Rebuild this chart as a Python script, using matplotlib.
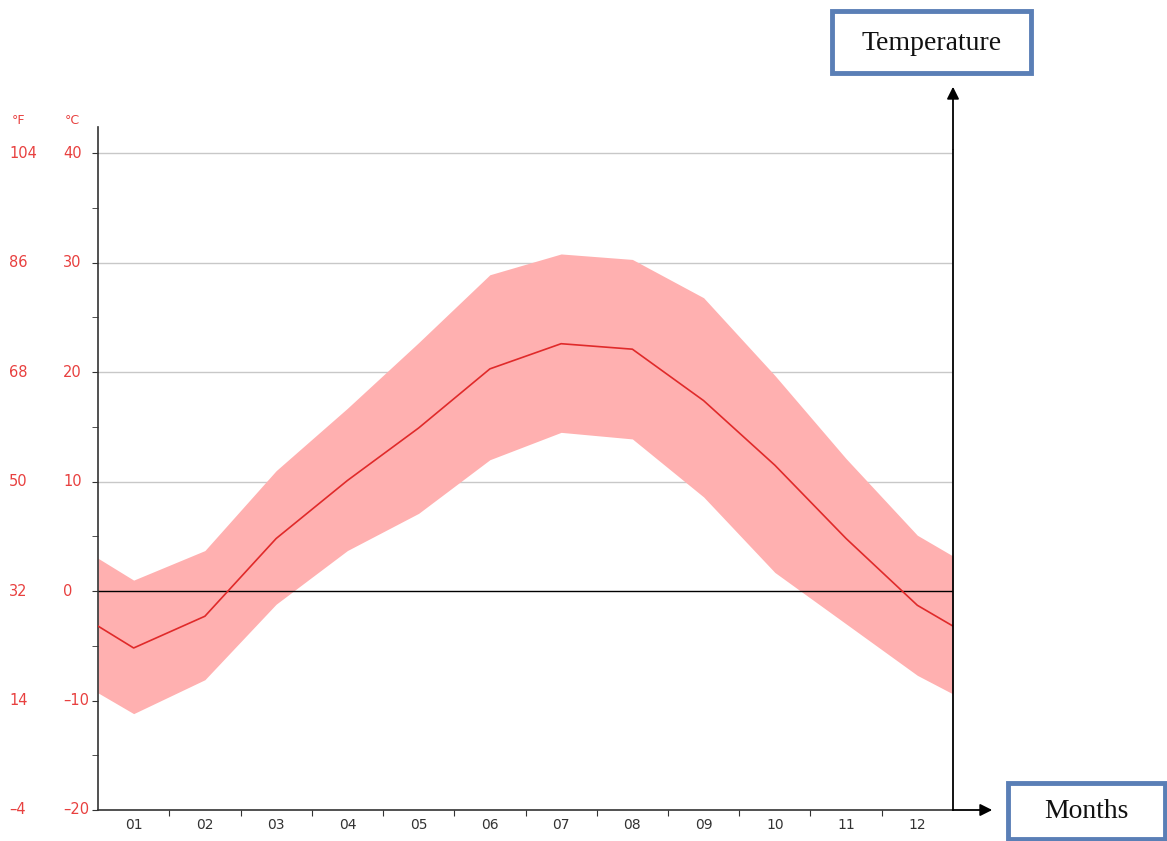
import numpy as np
import matplotlib.pyplot as plt
from matplotlib.patches import FancyBboxPatch
from matplotlib.transforms import blended_transform_factory

# month positions, with the half-month edges at both ends
months = ['01', '02', '03', '04', '05', '06', '07', '08', '09', '10', '11', '12']
x_pos = [0.5, 1, 2, 3, 4, 5, 6, 7, 8, 9, 10, 11, 12, 12.5]

t_mean = [-3.2, -5.2, -2.3, 4.8, 10.1, 14.9, 20.3, 22.6, 22.1, 17.4, 11.5, 4.8, -1.3, -3.2]
t_high = [3.0, 1.0, 3.7, 11.0, 16.7, 22.7, 28.9, 30.8, 30.3, 26.8, 19.7, 12.1, 5.1, 3.2]
t_low = [-9.3, -11.2, -8.1, -1.2, 3.7, 7.1, 12.0, 14.5, 13.9, 8.6, 1.7, -3.0, -7.7, -9.4]

c_ticks = [-20, -10, 0, 10, 20, 30, 40]
f_ticks = ['-4', '14', '32', '50', '68', '86', '104']

red = '#e8403f'

fig = plt.figure(figsize=(11.67, 8.41), dpi=100)
ax = fig.add_axes([0.084, 0.0369, 0.7326, 0.8121])

ax.fill_between(x_pos, t_low, t_high, color='#ffb0b0', lw=0, zorder=1)
ax.plot(x_pos, t_mean, color='#e02a2a', lw=1.2, zorder=3)
ax.axhline(0, color='black', lw=1.0, zorder=2)
for v in [10, 20, 30, 40]:
    ax.axhline(v, color='#c8c8c8', lw=1.0, zorder=0)

ax.set_xlim(0.5, 12.5)
ax.set_ylim(-20, 42.4)

for s in ['top', 'right']:
    ax.spines[s].set_visible(False)
ax.spines['left'].set_color('#333333')
ax.spines['bottom'].set_color('#333333')
ax.spines['left'].set_linewidth(1.2)
ax.spines['bottom'].set_linewidth(1.2)

# month labels centred, ticks on month boundaries
ax.set_xticks(np.arange(1.5, 12.5, 1))
ax.set_xticklabels([])
ax.set_xticks(np.arange(1, 13), minor=True)
ax.set_xticklabels(months, minor=True, fontsize=10, color='#333333', family='DejaVu Sans')
ax.tick_params(axis='x', which='major', length=4, color='#333333')
ax.tick_params(axis='x', which='minor', length=0, pad=6)

ax.set_yticks(c_ticks)
ax.set_yticklabels([])
ax.set_yticks(np.arange(-15, 40, 10), minor=True)
ax.tick_params(axis='y', which='both', length=4, color='#333333')

tr = blended_transform_factory(fig.transFigure, ax.transData)
for c, f in zip(c_ticks, f_ticks):
    ax.text(63 / 1167, c, str(c).replace('-', '\u2013'), transform=tr, ha='left', va='center',
            color=red, fontsize=10.5, family='DejaVu Sans')
    ax.text(9 / 1167, c, f.replace('-', '\u2013'), transform=tr, ha='left', va='center',
            color=red, fontsize=10.5, family='DejaVu Sans')
fig.text(12 / 1167, 1 - 120 / 841, '°F', color=red, fontsize=9, family='DejaVu Sans', va='center')
fig.text(65 / 1167, 1 - 120 / 841, '°C', color=red, fontsize=9, family='DejaVu Sans', va='center')

# axis arrows
fig.add_artist(plt.Line2D([953 / 1167, 953 / 1167], [1 - 810 / 841, 1 - 150 / 841],
                          transform=fig.transFigure, color='black', lw=1.3))
ax.annotate('', xy=(953 / 1167, 1 - 84 / 841), xytext=(953 / 1167, 1 - 152 / 841),
            xycoords='figure fraction', textcoords='figure fraction',
            arrowprops=dict(arrowstyle='-|>', color='black', lw=1.3, mutation_scale=18))
ax.annotate('', xy=(995 / 1167, 1 - 810 / 841), xytext=(950 / 1167, 1 - 810 / 841),
            xycoords='figure fraction', textcoords='figure fraction',
            arrowprops=dict(arrowstyle='-|>', color='black', lw=1.3, mutation_scale=18))

# label boxes
def label_box(x0, y0, x1, y1, text, ty):
    box = FancyBboxPatch((x0 / 1167, 1 - y1 / 841), (x1 - x0) / 1167, (y1 - y0) / 841,
                         boxstyle='square,pad=0', transform=fig.transFigure,
                         facecolor='white', edgecolor='#5a7fb6', lw=3.5, clip_on=False)
    fig.add_artist(box)
    fig.text((x0 + x1) / 2 / 1167, 1 - ty / 841, text, ha='center', va='center',
             fontsize=20, family='Liberation Serif', color='#111111')

label_box(832, 11, 1031, 73, 'Temperature', 44)
label_box(1008, 783, 1165, 839, 'Months', 812)

fig.savefig('out.png', dpi=100)
